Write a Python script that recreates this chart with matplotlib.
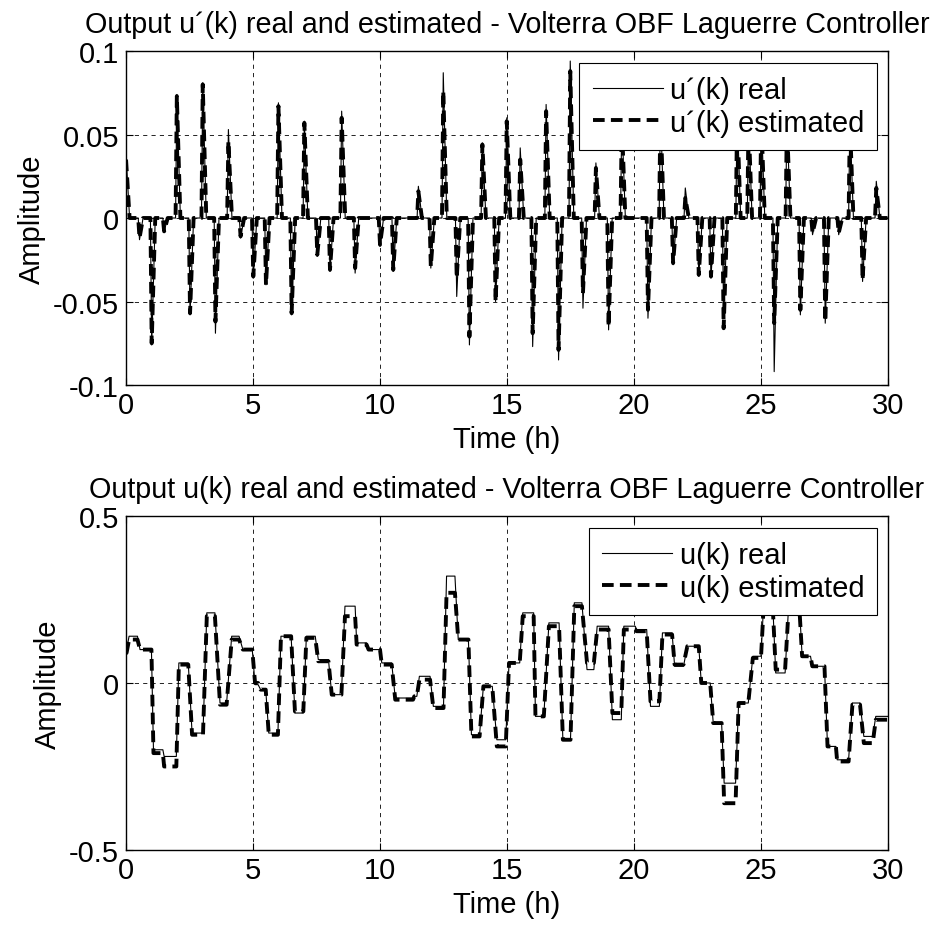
import matplotlib
matplotlib.use("Agg")
import matplotlib.pyplot as plt

# Espigas de u'(k): instante (h), amplitud real, amplitud estimada
spike_t = [0.0, 0.53, 1.01, 1.5, 2.0, 2.52, 3.02, 3.52, 4.03, 4.51, 5.01, 5.51,
           6.0, 6.52, 7.02, 7.53, 8.03, 8.49, 9.02, 10.0, 10.52, 11.51, 12.0,
           12.49, 13.02, 13.52, 14.03, 14.55, 14.99, 15.52, 16.01, 16.54, 17.03,
           17.49, 17.99, 18.5, 19.0, 19.52, 20.55, 21.04, 21.54, 22.02, 22.55,
           23.03, 23.53, 24.06, 24.51, 25.01, 25.52, 26.02, 26.55, 27.03, 27.53,
           28.06, 28.5, 29.0, 29.54]
spike_real = [0.038, -0.013, -0.076, -0.008, 0.074, -0.058, 0.081, -0.069, 0.053,
              -0.012, -0.036, -0.040, 0.069, -0.058, 0.058, -0.023, -0.032, 0.064,
              -0.033, -0.017, -0.032, 0.019, -0.030, 0.087, -0.047, -0.076, 0.045,
              -0.050, 0.060, 0.042, -0.077, 0.068, -0.085, 0.094, -0.054, 0.033,
              -0.067, 0.060, -0.060, 0.065, -0.028, 0.018, -0.035, -0.036, -0.060,
              0.065, 0.060, 0.062, -0.092, 0.060, -0.058, -0.010, -0.063, -0.010,
              0.060, -0.038, 0.022]
spike_est = [0.035, -0.012, -0.075, -0.008, 0.073, -0.057, 0.080, -0.062, 0.046,
             -0.011, -0.035, -0.040, 0.067, -0.057, 0.057, -0.022, -0.031, 0.060,
             -0.030, -0.016, -0.031, 0.016, -0.029, 0.076, -0.036, -0.071, 0.044,
             -0.050, 0.058, 0.035, -0.069, 0.064, -0.079, 0.088, -0.045, 0.030,
             -0.065, 0.058, -0.055, 0.062, -0.027, 0.012, -0.034, -0.035, -0.066,
             0.062, 0.058, 0.060, -0.063, 0.058, -0.055, -0.009, -0.062, -0.009,
             0.058, -0.037, 0.018]

# Tramos de u(k): inicio, fin, nivel real, nivel estimado
seg_start = [0.0, 0.12, 0.55, 1.08, 1.5, 2.08, 2.6, 3.18, 3.7, 4.16, 4.6, 5.08, 5.3,
             5.62, 6.1, 6.65, 7.1, 7.57, 8.1, 8.62, 9.08, 9.55, 10.07, 10.6, 11.35,
             11.55, 12.1, 12.62, 13.08, 13.6, 14.07, 14.6, 15.08, 15.62, 16.12,
             16.65, 17.2, 17.65, 18.15, 18.55, 19.15, 19.6, 20.1, 20.65, 21.12,
             21.6, 22.1, 22.65, 23.12, 23.55, 24.12, 24.68, 25.12, 25.58, 26.1,
             26.62, 27.02, 27.62, 28.0, 28.6, 29.05, 29.52]
seg_end = [0.02, 0.45, 1.0, 1.45, 1.98, 2.45, 3.03, 3.5, 3.96, 4.45, 4.97, 5.2, 5.5,
           5.98, 6.5, 6.98, 7.45, 7.97, 8.48, 9.02, 9.47, 10.0, 10.46, 11.3, 11.45,
           11.97, 12.5, 12.95, 13.48, 13.92, 14.42, 14.95, 15.5, 16.05, 16.45,
           17.05, 17.5, 17.95, 18.42, 19.0, 19.5, 20.05, 20.5, 21.0, 21.5, 21.95,
           22.55, 23.0, 23.45, 24.0, 24.5, 25.0, 25.45, 25.95, 26.5, 26.95, 27.5,
           27.95, 28.45, 28.9, 29.4, 30.0]
u_real = [0.10, 0.14, 0.10, -0.20, -0.22, 0.06, -0.15, 0.21, -0.06, 0.14, 0.10,
          -0.005, -0.02, -0.15, 0.14, -0.09, 0.14, 0.07, -0.035, 0.23, 0.12, 0.10,
          0.06, -0.045, -0.04, 0.02, -0.07, 0.32, 0.13, -0.155, -0.01, -0.17, 0.06,
          0.21, -0.10, 0.18, -0.17, 0.24, 0.04, 0.17, -0.11, 0.17, 0.16, -0.07,
          0.15, 0.05, 0.11, 0.0, -0.12, -0.30, -0.06, 0.08, 0.26, 0.03, 0.25, 0.08,
          0.05, -0.19, -0.23, -0.06, -0.16, -0.10]
u_est = [0.09, 0.13, 0.10, -0.21, -0.25, 0.055, -0.155, 0.20, -0.065, 0.13, 0.10,
         0.0, -0.02, -0.155, 0.14, -0.085, 0.135, 0.065, -0.035, 0.20, 0.115, 0.10,
         0.055, -0.05, -0.04, 0.01, -0.075, 0.27, 0.13, -0.16, -0.01, -0.19, 0.06,
         0.20, -0.10, 0.17, -0.17, 0.23, 0.06, 0.16, -0.09, 0.16, 0.155, -0.055,
         0.145, 0.055, 0.11, 0.0, -0.12, -0.36, -0.06, 0.075, 0.25, 0.04, 0.24,
         0.08, 0.05, -0.19, -0.235, -0.065, -0.18, -0.11]

# Construimos las curvas a partir de los datos
du_t, du_r, du_e = [], [], []
for t, a, b in zip(spike_t, spike_real, spike_est):
    if t > 0:
        du_t.append(t - 0.05)
        du_r.append(0.0)
        du_e.append(0.0)
    du_t += [t, t + 0.14]
    du_r += [a, 0.0]
    du_e += [b, 0.0]
du_t.append(30.0)
du_r.append(0.0)
du_e.append(0.0)

u_t, u_r, u_e = [], [], []
for s, e, a, b in zip(seg_start, seg_end, u_real, u_est):
    u_t += [s, e]
    u_r += [a, a]
    u_e += [b, b]

plt.rcParams['font.family'] = ['Liberation Sans', 'DejaVu Sans']
plt.rcParams['font.size'] = 21

fig = plt.figure(figsize=(9.35, 9.29), dpi=100)
ax1 = fig.add_axes([0.1348, 0.5845, 0.8149, 0.3595])
ax2 = fig.add_axes([0.1348, 0.0840, 0.8149, 0.3595])

ax1.plot(du_t, du_r, color='black', linewidth=0.8, label='u´(k) real')
ax1.plot(du_t, du_e, color='black', linewidth=2.8, linestyle=(0, (3, 1.6)),
         label='u´(k) estimated')
ax1.set_ylim(-0.1, 0.1)
ax1.set_yticks([-0.1, -0.05, 0, 0.05, 0.1])
ax1.set_yticklabels(['-0.1', '-0.05', '0', '0.05', '0.1'])
ax1.set_title('Output u´(k) real and estimated - Volterra OBF Laguerre Controller',
              fontsize=20.7, pad=14)

ax2.plot(u_t, u_r, color='black', linewidth=0.8, label='u(k) real')
ax2.plot(u_t, u_e, color='black', linewidth=2.8, linestyle=(0, (3, 1.6)),
         label='u(k) estimated')
ax2.set_ylim(-0.5, 0.5)
ax2.set_yticks([-0.5, 0, 0.5])
ax2.set_yticklabels(['-0.5', '0', '0.5'])
ax2.set_title('Output u(k) real and estimated - Volterra OBF Laguerre Controller',
              fontsize=20.7, pad=14)

for ax in (ax1, ax2):
    ax.set_xlim(0, 30)
    ax.set_xticks([0, 5, 10, 15, 20, 25, 30])
    ax.set_xlabel('Time (h)', labelpad=5)
    ax.set_ylabel('Amplitude', labelpad=5)
    ax.grid(True, color='black', linestyle=(0, (5, 5)), linewidth=0.6)
    ax.tick_params(direction='in', length=5, top=True, right=True)
    ax.tick_params(axis='x', pad=4)
    ax.tick_params(axis='y', pad=5)
    for sp in ax.spines.values():
        sp.set_linewidth(1.0)
    leg = ax.legend(loc='upper right', fancybox=False, framealpha=1,
                    edgecolor='black', handlelength=2.4, borderpad=0.45,
                    labelspacing=0.15, handletextpad=0.25, borderaxespad=0,
                    bbox_to_anchor=(0.986, 0.964))
    leg.get_frame().set_linewidth(0.8)

fig.savefig('out.png', dpi=100, facecolor='white')
